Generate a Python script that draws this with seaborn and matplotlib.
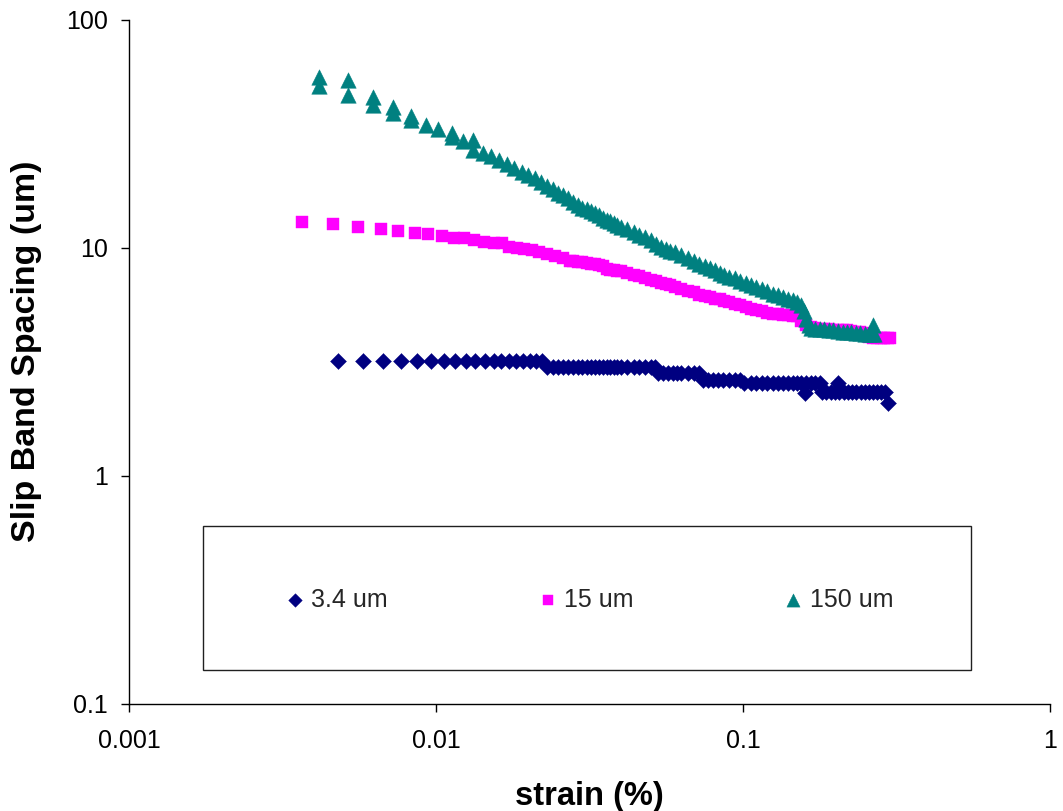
import matplotlib
matplotlib.use("Agg")
import matplotlib.pyplot as plt
from matplotlib.patches import Rectangle
from matplotlib.ticker import NullLocator
import seaborn as sns
import pandas as pd

# ---------------- data ----------------
series_names = ["3.4 um", "15 um", "150 um"]
series_colors = ["#000080", "#FF00FF", "#008080"]

strain_34 = [0.0048, 0.0058, 0.0067, 0.0077, 0.0087, 0.0096, 0.0106, 0.0115, 0.0125, 0.0134,
             0.0144, 0.0154, 0.0163, 0.0173, 0.0182, 0.0192, 0.0202, 0.0211, 0.0221,
             0.023, 0.024, 0.025, 0.026, 0.027, 0.028, 0.029, 0.030, 0.031, 0.032,
             0.033, 0.034, 0.035, 0.036, 0.037, 0.038, 0.039, 0.040, 0.042, 0.044,
             0.046, 0.048, 0.050, 0.0515,
             0.053, 0.055, 0.057, 0.059, 0.061, 0.063, 0.066, 0.069, 0.072,
             0.074, 0.077, 0.080, 0.083, 0.086, 0.090, 0.094, 0.098,
             0.101, 0.106, 0.110, 0.115, 0.120, 0.125, 0.130, 0.135, 0.140, 0.145,
             0.150, 0.155, 0.159, 0.160, 0.166, 0.172, 0.178,
             0.181, 0.187, 0.193, 0.199, 0.204, 0.206, 0.213, 0.220, 0.227, 0.234,
             0.242, 0.250, 0.258, 0.266, 0.274, 0.282, 0.290, 0.297]
spacing_34 = [3.2, 3.2, 3.2, 3.2, 3.2, 3.2, 3.2, 3.2, 3.2, 3.2,
              3.2, 3.2, 3.2, 3.2, 3.2, 3.2, 3.2, 3.2, 3.2,
              3.0, 3.0, 3.0, 3.0, 3.0, 3.0, 3.0, 3.0, 3.0, 3.0,
              3.0, 3.0, 3.0, 3.0, 3.0, 3.0, 3.0, 3.0, 3.0, 3.0,
              3.0, 3.0, 3.0, 3.0,
              2.83, 2.83, 2.83, 2.83, 2.83, 2.83, 2.83, 2.83, 2.83,
              2.64, 2.64, 2.64, 2.64, 2.64, 2.64, 2.64, 2.64,
              2.56, 2.56, 2.56, 2.56, 2.56, 2.56, 2.56, 2.56, 2.56, 2.56,
              2.56, 2.56, 2.31, 2.56, 2.56, 2.56, 2.56,
              2.34, 2.34, 2.34, 2.34, 2.57, 2.34, 2.34, 2.34, 2.34, 2.34,
              2.34, 2.34, 2.34, 2.34, 2.34, 2.34, 2.34, 2.09]

strain_15 = [0.00365, 0.00461, 0.00558, 0.0066, 0.0075, 0.00852, 0.00944, 0.01046,
             0.01147, 0.01237, 0.01333, 0.01437, 0.01548, 0.01641, 0.01733, 0.01832,
             0.01935, 0.0205, 0.0217, 0.02293, 0.02441, 0.02587, 0.02733,
             0.028, 0.029, 0.030, 0.031, 0.032, 0.033, 0.034, 0.035, 0.036, 0.037,
             0.038, 0.039, 0.040, 0.042, 0.044, 0.046, 0.048, 0.050, 0.052, 0.054,
             0.056, 0.058, 0.060, 0.063, 0.066, 0.069, 0.072, 0.075, 0.078, 0.081,
             0.084, 0.087, 0.090, 0.094, 0.098, 0.102, 0.106, 0.110, 0.115, 0.120,
             0.125, 0.130, 0.135, 0.140, 0.145, 0.150, 0.155, 0.160, 0.166, 0.172,
             0.178, 0.184, 0.190, 0.197, 0.204, 0.211, 0.218, 0.225, 0.233, 0.241,
             0.249, 0.257, 0.265, 0.273, 0.281, 0.289, 0.297, 0.301]
spacing_15 = [13.04, 12.70, 12.40, 12.08, 11.88, 11.63, 11.48, 11.29,
              11.06, 11.06, 10.81, 10.66, 10.52, 10.52, 10.13, 9.97,
              9.87, 9.80, 9.63, 9.41, 9.25, 9.01, 8.77,
              8.75, 8.70, 8.70, 8.60, 8.55, 8.50, 8.40, 8.30, 8.10, 8.00,
              8.00, 7.95, 7.90, 7.78, 7.65, 7.50, 7.40, 7.25, 7.15, 7.05,
              6.95, 6.85, 6.75, 6.60, 6.50, 6.40, 6.25, 6.15, 6.10, 6.00,
              5.95, 5.85, 5.80, 5.70, 5.60, 5.50, 5.40, 5.35, 5.28, 5.20,
              5.15, 5.12, 5.10, 5.08, 5.05, 5.02, 4.80, 4.60, 4.50, 4.45,
              4.42, 4.40, 4.40, 4.38, 4.37, 4.36, 4.35, 4.33, 4.30, 4.28,
              4.25, 4.05, 4.03, 4.03, 4.03, 4.03, 4.03, 4.03]

strain_150 = [0.00416, 0.00416, 0.00516, 0.00516, 0.00622, 0.00622, 0.00726, 0.00726,
              0.00827, 0.00827, 0.00928, 0.01013, 0.01125, 0.01125, 0.01227, 0.01322,
              0.01322, 0.01426, 0.01508,
              0.016, 0.017, 0.018, 0.019, 0.020, 0.021, 0.022, 0.023, 0.024, 0.025,
              0.026, 0.027, 0.028, 0.029, 0.030, 0.031, 0.032, 0.033, 0.034, 0.035,
              0.036, 0.037, 0.038, 0.039, 0.040, 0.042, 0.044, 0.046, 0.048, 0.050,
              0.052, 0.054, 0.056, 0.058, 0.060, 0.063, 0.066, 0.069, 0.072, 0.075,
              0.078, 0.081, 0.084, 0.087, 0.090, 0.094, 0.098, 0.102, 0.106, 0.110,
              0.115, 0.120, 0.125, 0.130, 0.135, 0.140, 0.145, 0.150, 0.155, 0.158,
              0.161, 0.164, 0.167, 0.172, 0.178, 0.184, 0.190, 0.197, 0.204, 0.211,
              0.218, 0.225, 0.233, 0.241, 0.249, 0.257, 0.263, 0.266, 0.268]
spacing_150 = [56.2, 51.2, 54.4, 47.0, 45.9, 42.5, 41.5, 39.1,
               37.8, 36.5, 34.8, 33.2, 31.9, 30.7, 29.5, 29.7,
               27.0, 26.1, 25.3,
               24.4, 23.4, 22.5, 21.6, 20.9, 20.2, 19.4, 18.7, 18.1, 17.5,
               17.0, 16.5, 15.9, 15.4, 15.0, 14.8, 14.5, 14.2, 13.9, 13.6,
               13.3, 13.1, 12.9, 12.6, 12.4, 12.1, 11.8, 11.45, 11.15, 10.8,
               10.4, 10.1, 9.9, 9.75, 9.6, 9.3, 9.0, 8.78, 8.55, 8.35,
               8.2, 8.0, 7.8, 7.62, 7.48, 7.35, 7.2, 7.05, 6.9, 6.75,
               6.6, 6.45, 6.3, 6.2, 6.1, 6.0, 5.9, 5.8, 5.65, 5.3,
               4.9, 4.6, 4.45, 4.42, 4.4, 4.4, 4.38, 4.35, 4.33, 4.3,
               4.3, 4.28, 4.25, 4.23, 4.2, 4.2, 4.2, 4.6, 4.18]

x_ticks = [0.001, 0.01, 0.1, 1]
x_tick_labels = ["0.001", "0.01", "0.1", "1"]
y_ticks = [0.1, 1, 10, 100]
y_tick_labels = ["0.1", "1", "10", "100"]
x_label = "strain (%)"
y_label = "Slip Band Spacing (um)"

# ---------------- styling ----------------
sns.set_theme(style="white")
plt.rcParams["font.family"] = ["Liberation Sans", "DejaVu Sans"]

fig = plt.figure(figsize=(10.63, 8.11), dpi=100)
ax = fig.add_axes([0.12135, 0.13194, 0.86642, 0.84340])

markers = ["D", "s", "^"]
sizes = [66, 82, 125]
datasets = [(strain_34, spacing_34), (strain_15, spacing_15), (strain_150, spacing_150)]

for (xs, ys), name, col, mk, sz in zip(datasets, series_names, series_colors, markers, sizes):
    df = pd.DataFrame({"strain": xs, "spacing": ys})
    sns.scatterplot(data=df, x="strain", y="spacing", marker=mk, s=sz, color=col,
                    edgecolor=col, linewidth=0.3, label=name, ax=ax, legend=False)

ax.set_xscale("log")
ax.set_yscale("log")
ax.set_xlim(0.001, 1)
ax.set_ylim(0.1, 100)
ax.set_xticks(x_ticks, labels=x_tick_labels)
ax.set_yticks(y_ticks, labels=y_tick_labels)
ax.xaxis.set_minor_locator(NullLocator())
ax.yaxis.set_minor_locator(NullLocator())

for side in ["top", "right"]:
    ax.spines[side].set_visible(False)
for side in ["left", "bottom"]:
    ax.spines[side].set_color("black")
    ax.spines[side].set_linewidth(1.0)

ax.tick_params(axis="both", which="major", bottom=True, left=True, direction="out",
               length=6, width=1, color="black", labelcolor="black", labelsize=18)
ax.tick_params(axis="x", pad=12)
ax.tick_params(axis="y", pad=9)

ax.set_xlabel(x_label, fontsize=23.5, fontweight="bold", color="black")
ax.set_ylabel(y_label, fontsize=24.5, fontweight="bold", color="black")
ax.xaxis.set_label_coords(0.4995, -0.112)
ax.yaxis.set_label_coords(-0.094, 0.515)

ax.grid(False)

# legend box and entries
ax.add_patch(Rectangle((0.0803, 0.0497), 0.8339, 0.2105, transform=ax.transAxes,
                       fill=False, edgecolor="#202020", linewidth=1.0, zorder=5))
handles, labels = ax.get_legend_handles_labels()
ax.legend(handles, labels, loc="center", bbox_to_anchor=(0.4995, 0.152), ncol=3,
          frameon=False, handlelength=0.8, handletextpad=0.25, columnspacing=6.0,
          fontsize=18, scatterpoints=1, borderaxespad=0, markerscale=0.85)

fig.savefig("out.png", dpi=100)
